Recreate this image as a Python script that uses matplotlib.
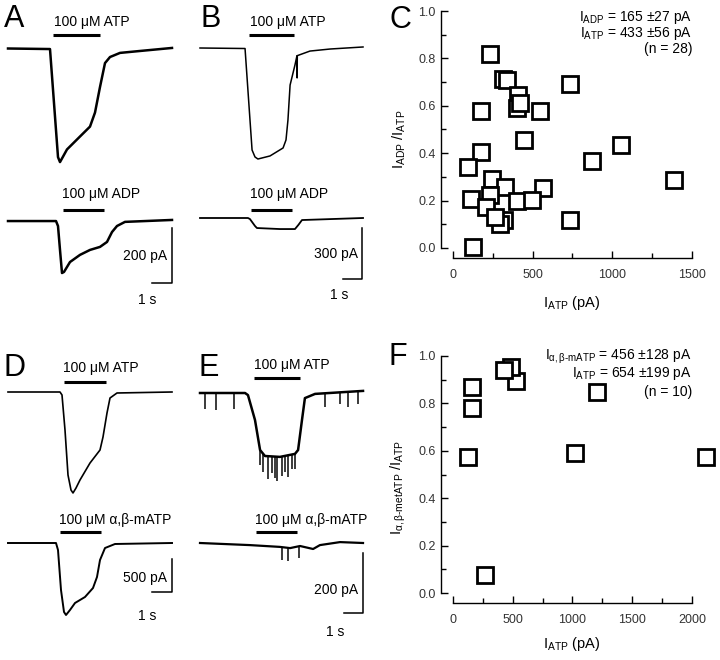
import numpy as np
import matplotlib
matplotlib.use("Agg")
import matplotlib.pyplot as plt
from matplotlib.transforms import blended_transform_factory

plt.rcParams['font.family'] = ['Liberation Sans', 'DejaVu Sans']
plt.rcParams['mathtext.fontset'] = 'custom'
plt.rcParams['mathtext.rm'] = 'Liberation Sans'
plt.rcParams['mathtext.it'] = 'Liberation Sans:italic'

W, H = 720, 660

# ---- traces (time in s, current in pA) ----
# A
a_atp_t = [0, 2.1, 2.5, 2.6, 2.95, 3.6, 4.1, 4.35, 4.6, 4.85, 5.1, 5.6, 6.6, 8.2]
a_atp_i = [0, -2, -395, -413, -367, -320, -284, -233, -140, -53, -31, -16, -9, 2]
a_adp_t = [0, 2.4, 2.5, 2.6, 2.7, 2.8, 3.1, 3.6, 4.1, 4.6, 4.95, 5.2, 5.45, 5.85, 8.2]
a_adp_i = [-2, -2, -20, -107, -191, -187, -151, -125, -107, -96, -78, -42, -20, -5, 2]
a_atp_on = (2.25, 4.6)
a_adp_on = (2.75, 4.8)

# B
b_atp_t = [0, 2.31, 2.67, 2.82, 2.97, 3.59, 4.26, 4.41, 4.51, 4.62, 4.87, 4.97,
           4.98, 4.99, 5.64, 6.67, 8.36]
b_atp_i = [0, -3, -600, -641, -653, -635, -588, -541, -424, -218, -100, -47,
           -176, -45, -18, -6, 6]
b_adp_t = [0, 2.46, 2.56, 2.82, 2.92, 4.1, 4.87, 5.05, 5.23, 8.36]
b_adp_i = [0, 0, -6, -47, -59, -65, -65, -40, -12, 0]
b_atp_on = (2.51, 4.82)
b_adp_on = (2.62, 4.72)

# D
d_atp_t = [0, 2.6, 2.7, 2.85, 3.0, 3.15, 3.25, 3.4, 3.6, 4.1, 4.6, 4.75, 4.95, 5.1, 5.45, 8.2]
d_atp_i = [0, 0, -45, -576, -1258, -1485, -1530, -1455, -1333, -1076, -879, -682,
           -318, -91, -15, 0]
d_map_t = [0, 2.4, 2.5, 2.65, 2.8, 2.9, 3.1, 3.35, 3.85, 4.25, 4.45, 4.6, 4.85, 5.35, 8.2]
d_map_i = [0, 0, -106, -712, -1045, -1091, -1015, -909, -818, -682, -515, -258,
           -76, -15, 0]
d_atp_on = (2.8, 4.9)
d_map_on = (2.6, 4.65)

# E
e_atp_t = [0, 2.31, 2.46, 2.82, 3.08, 3.33, 4.10, 4.87, 5.03, 5.23, 5.38, 5.9, 8.36]
e_atp_i = [0, 0, -7, -90, -190, -210, -213, -203, -190, -90, -17, -3, 7]
e_atp_spk_t = [0.26, 0.82, 1.74, 3.08, 3.23, 3.49, 3.69, 3.85, 3.95, 4.21, 4.36,
               4.51, 4.72, 4.87, 6.41, 7.18, 7.59, 8.1]
e_atp_spk_a = [55, 57, 52, 50, 60, 75, 55, 70, 80, 65, 55, 72, 48, 50, 45, 40, 50, 42]
e_map_t = [0, 2.56, 4.1, 4.62, 5.13, 5.8, 6.15, 7.18, 8.36]
e_map_i = [0, -7, -13, -17, -10, -20, -7, 3, 0]
e_map_spk_t = [4.21, 4.51, 5.08]
e_map_spk_a = [43, 43, 40]
e_atp_on = (2.77, 5.13)
e_map_on = (2.87, 4.97)

# ---- scatter data ----
c_x = [231, 315, 340, 734, 178, 409, 399, 420, 545, 445, 174, 94, 871, 1055, 1385,
       248, 325, 566, 111, 232, 210, 399, 493, 320, 295, 264, 734, 126]
c_y = [0.82, 0.715, 0.71, 0.69, 0.58, 0.645, 0.59, 0.61, 0.58, 0.455, 0.405, 0.34,
       0.366, 0.434, 0.286, 0.293, 0.258, 0.254, 0.208, 0.224, 0.173, 0.197, 0.201,
       0.118, 0.10, 0.13, 0.117, 0.004]
f_x = [157, 162, 129, 268, 529, 487, 428, 1205, 1023, 2114]
f_y = [0.868, 0.779, 0.575, 0.076, 0.895, 0.953, 0.94, 0.847, 0.592, 0.575]

fig = plt.figure(figsize=(W / 100, H / 100), dpi=100)


def trace_ax(left, right, top, bottom, t0_px, px_s, base_px, px_pA):
    # axes in pixel box, data in s / pA
    ax = fig.add_axes([left / W, 1 - bottom / H, (right - left) / W, (bottom - top) / H])
    ax.set_xlim((left - t0_px) / px_s, (right - t0_px) / px_s)
    ax.set_ylim((base_px - bottom) / px_pA, (base_px - top) / px_pA)
    ax.set_axis_off()
    return ax


def drug_bar(ax, on, y_px, label, lx_px, ly_px):
    tr = blended_transform_factory(ax.transData, fig.transFigure)
    ax.plot(on, [1 - y_px / H] * 2, color='black', lw=2.2, transform=tr,
            clip_on=False, solid_capstyle='butt')
    fig.text(lx_px / W, 1 - ly_px / H, label, fontsize=10, ha='left', va='center')


def scale_bar(ax, t, i, pA, lab_pA, lab_s):
    ax.plot([t - 1, t, t], [i, i, i + pA], color='black', lw=1.1, clip_on=False)
    fig.text(lab_pA[0] / W, 1 - lab_pA[1] / H, '%d pA' % pA, fontsize=10,
             ha='right', va='center')
    fig.text(lab_s[0] / W, 1 - lab_s[1] / H, '1 s', fontsize=10,
             ha='center', va='center')


def spikes(ax, kt, ki, st, sa, lw):
    base = np.interp(st, kt, ki)
    ax.vlines(st, base, base - np.array(sa), color='black', lw=lw * 0.6)


# A
ax = trace_ax(0, 180, 0, 180, 8, 20, 48.5, 0.275)
ax.plot(a_atp_t, a_atp_i, color='black', lw=1.8)
drug_bar(ax, a_atp_on, 35, '100 μM ATP', 54, 22)
ax = trace_ax(0, 180, 180, 320, 8, 20, 220.5, 0.275)
ax.plot(a_adp_t, a_adp_i, color='black', lw=1.8)
drug_bar(ax, a_adp_on, 210, '100 μM ADP', 62, 194)
scale_bar(ax, 8.2, -227, 200, (167, 256), (147, 300))

# B
ax = trace_ax(190, 370, 0, 180, 200, 19.5, 48, 0.17)
ax.plot(b_atp_t, b_atp_i, color='black', lw=1.1)
drug_bar(ax, b_atp_on, 35, '100 μM ATP', 250, 22)
ax = trace_ax(190, 370, 180, 320, 200, 19.5, 218, 0.17)
ax.plot(b_adp_t, b_adp_i, color='black', lw=1.3)
drug_bar(ax, b_adp_on, 210, '100 μM ADP', 250, 194)
scale_bar(ax, 8.31, -359, 300, (358, 254), (339, 295))

# D
ax = trace_ax(0, 180, 340, 520, 8, 20, 392, 0.066)
ax.plot(d_atp_t, d_atp_i, color='black', lw=1.2)
drug_bar(ax, d_atp_on, 382, '100 μM ATP', 63, 368)
ax = trace_ax(0, 180, 520, 640, 8, 20, 543, 0.066)
ax.plot(d_map_t, d_map_i, color='black', lw=1.4)
drug_bar(ax, d_map_on, 532, '100 μM α,β-mATP', 59, 520)
scale_bar(ax, 8.2, -742, 500, (167, 578), (147, 616))

# E
ax = trace_ax(190, 370, 340, 520, 200, 19.5, 393, 0.3)
ax.plot(e_atp_t, e_atp_i, color='black', lw=1.8)
spikes(ax, e_atp_t, e_atp_i, e_atp_spk_t, e_atp_spk_a, 1.8)
drug_bar(ax, e_atp_on, 378, '100 μM ATP', 254, 365)
ax = trace_ax(190, 370, 520, 645, 200, 19.5, 543, 0.3)
ax.plot(e_map_t, e_map_i, color='black', lw=1.6)
spikes(ax, e_map_t, e_map_i, e_map_spk_t, e_map_spk_a, 1.8)
drug_bar(ax, e_map_on, 532, '100 μM α,β-mATP', 255, 520)
scale_bar(ax, 8.36, -233, 200, (358, 590), (335, 632))


def scatter_ax(y0_px, xs, ys, xmax, xlim, ylabel, ylab_y, xlab_y):
    ax = fig.add_axes([441 / W, 1 - y0_px / H, 251 / W, 237 / H])
    ax.plot(xs, ys, 's', ms=11, mfc='white', mec='black', mew=2, clip_on=False,
            zorder=3)
    ax.set_xlim(xlim)
    ax.set_ylim(0, 1)
    for s in ('top', 'right'):
        ax.spines[s].set_visible(False)
    ax.spines['left'].set_bounds(0, 1)
    ax.spines['bottom'].set_bounds(0, xmax)
    ax.spines['bottom'].set_position(('outward', 7))
    for s in ('left', 'bottom'):
        ax.spines[s].set_linewidth(1.0)
    ax.set_yticks(np.arange(0, 1.01, 0.2))
    ax.set_yticklabels(['%.1f' % v for v in np.arange(0, 1.01, 0.2)])
    ax.set_yticks(np.arange(0.1, 1.0, 0.2), minor=True)
    ax.set_xticks(np.arange(0, xmax + 1, 500))
    ax.set_xticks(np.arange(250, xmax, 500), minor=True)
    ax.tick_params(direction='in', labelsize=9, labelcolor='#333333', pad=4,
                   length=5, width=1.0)
    ax.tick_params(axis='x', pad=8)
    ax.tick_params(which='minor', direction='in', length=3.5, width=1.0)
    ax.set_ylabel(ylabel, fontsize=10.5)
    ax.yaxis.set_label_coords(-0.13, ylab_y)
    ax.set_xlabel(r'I$_{\rm ATP}$ (pA)', fontsize=10.5)
    ax.xaxis.set_label_coords(0.522, xlab_y)
    return ax


scatter_ax(248, c_x, c_y, 1500, (-75, 1500), r'I$_{\rm ADP}$ /I$_{\rm ATP}$',
           0.46, -0.194)
scatter_ax(593, f_x, f_y, 2000, (-100, 2000),
           r'I$_{\rm α,β‐metATP}$ /I$_{\rm ATP}$', 0.447, -0.177)

# stats text
for y, s in [(17, r'I$_{\rm ADP}$ = 165 ±27 pA'), (33, r'I$_{\rm ATP}$ = 433 ±56 pA'),
             (49, '(n = 28)'),
             (357, r'I$_{\rm α,β‐mATP}$ = 456 ±128 pA'),
             (374, r'I$_{\rm ATP}$ = 654 ±199 pA'), (392, '(n = 10)')]:
    fig.text(692 / W, 1 - y / H, s, fontsize=10, ha='right', va='center')

# panel letters
for x, y, s in [(14, 19, 'A'), (211, 19, 'B'), (400, 20, 'C'),
                (14, 368, 'D'), (209, 368, 'E'), (398, 357, 'F')]:
    fig.text(x / W, 1 - y / H, s, fontsize=22, ha='center', va='center')

fig.savefig('out.png', dpi=100)
